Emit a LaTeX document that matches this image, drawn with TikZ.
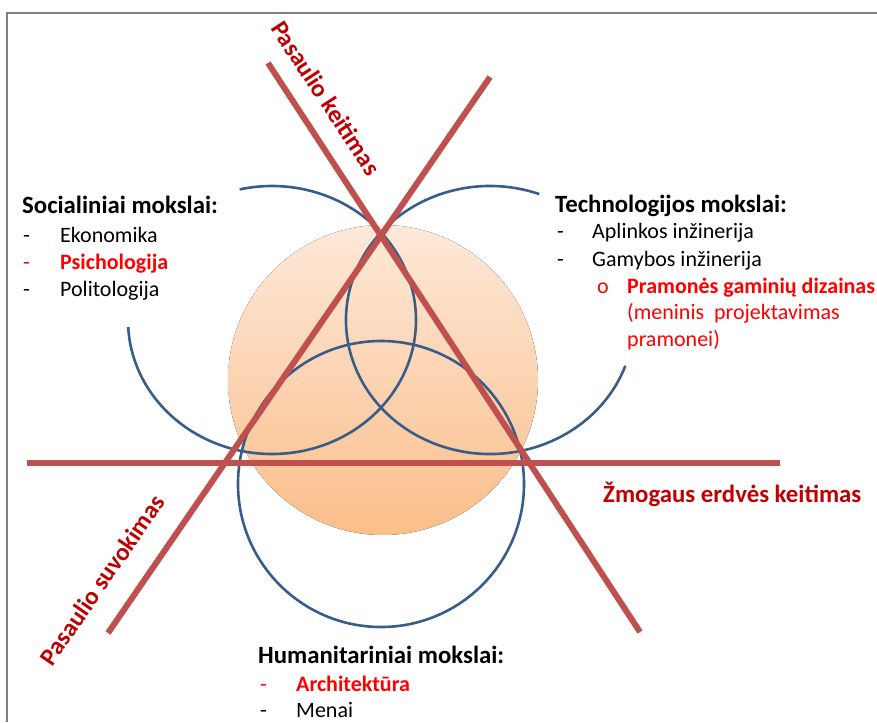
\documentclass[tikz,border=0pt]{standalone}
\usepackage{fontspec}
\setmainfont{Carlito}
\usepackage{tikz}
\definecolor{linered}{RGB}{192,80,77}
\definecolor{ringblue}{RGB}{56,93,138}
\definecolor{labelred}{RGB}{192,0,0}
\definecolor{itemred}{RGB}{255,0,0}
\definecolor{peachtop}{RGB}{253,233,217}
\definecolor{peachbot}{RGB}{250,190,138}
\tikzset{>=latex}
\tikzset{
    frameline/.style={line width=2pt, gray},
    ring/.style={line width=2.6pt, ringblue},
    redline/.style={line width=6pt, linered, preaction={draw, black, opacity=0.15, transform canvas={shift={(1.5pt,-2.5pt)}}}},
    tag/.style={inner sep=0pt, text=labelred, font=\fontsize{24.8}{28}\selectfont\bfseries},
    head/.style={inner sep=0pt, anchor=base west, font=\fontsize{24.8}{28}\selectfont\bfseries},
    item/.style={inner sep=0pt, anchor=base west, font=\fontsize{22}{27}\selectfont},
}
\newcommand{\dash}[1]{\makebox[#1][l]{-}}

\begin{document}
\begin{tikzpicture}[x=1pt, y=-1pt]
    \useasboundingbox (0,0) rectangle (877,722);
    \clip (0,0) rectangle (877,722);
    \draw[frameline] (877,13) -- (7,13) -- (7,722);
    \fill[top color=peachtop, bottom color=peachbot] (383,380) circle (155);
    \draw[ring] (381,484) circle (143);
    \draw[ring] ([shift={(177:144 and 134)}]272,320) arc[start angle=177, end angle=-103, x radius=144, y radius=134];
    \draw[ring] ([shift={(-70:144 and 134)}]490,320) arc[start angle=-70, end angle=-340, x radius=144, y radius=134];
    \coordinate (a1) at (268,63);
    \coordinate (a2) at (640,632);
    \coordinate (b1) at (490,77);
    \coordinate (b2) at (108,633);
    \coordinate (h1) at (27,463);
    \coordinate (h2) at (780,463);
    \draw[redline] (a1) -- (a2);
    \draw[redline] (b1) -- (b2);
    \draw[redline] (h1) -- (h2);
    \node[tag, rotate=-56.8] (keit) at (326,98) {Pasaulio keitimas};
    \node[tag, rotate=55.5] (suvok) at (102,580) {Pasaulio suvokimas};
    \node[tag, anchor=base west] (zmog) at (603,502) {Žmogaus erdvės keitimas};
    \node[head] (soc) at (22,213) {Socialiniai mokslai:};
    \node[item] (soc1) at (23,242) {\dash{37pt}Ekonomika};
    \node[item, text=itemred] (soc2) at (23,269) {\dash{37pt}\textbf{Psichologija}};
    \node[item] (soc3) at (23,296) {\dash{37pt}Politologija};
    \node[head] (tech) at (555,212) {Technologijos mokslai:};
    \node[item] (tech1) at (557,238) {\dash{35pt}Aplinkos inžinerija};
    \node[item] (tech2) at (557,266) {\dash{35pt}Gamybos inžinerija};
    \node[item, text=itemred] (tech3) at (597,293) {\makebox[30pt][l]{o}\textbf{Pramonės gaminių dizainas}};
    \node[item, text=itemred] (tech4) at (627,319) {(meninis\hspace{10pt}projektavimas};
    \node[item, text=itemred] (tech5) at (627,346) {pramonei)};
    \node[head] (hum) at (258,663) {Humanitariniai mokslai:};
    \node[item, text=itemred] (hum1) at (260,691) {\dash{36pt}\textbf{Architektūra}};
    \node[item] (hum2) at (260,717) {\dash{36pt}Menai};
\end{tikzpicture}
\end{document}
